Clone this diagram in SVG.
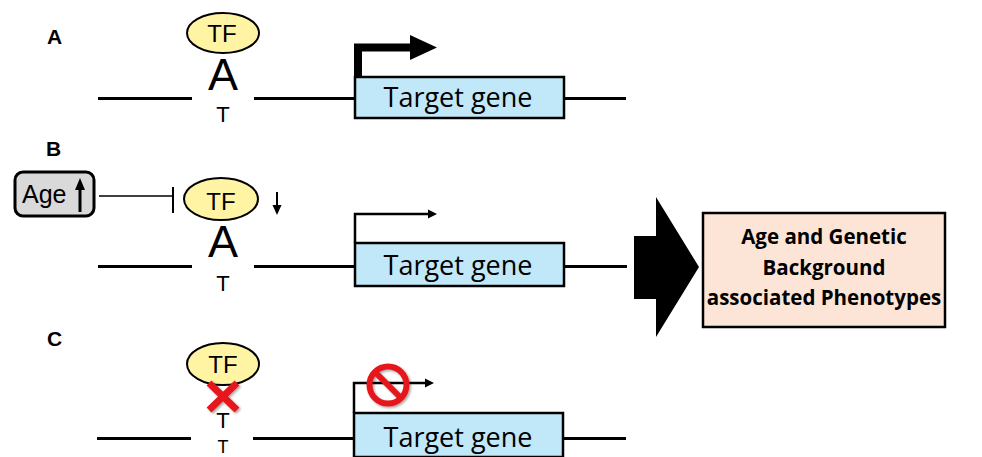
<svg xmlns="http://www.w3.org/2000/svg" width="982" height="457" viewBox="0 0 982 457">
<defs>
<style>
.lbl{font-family:"Liberation Sans",Arial,sans-serif;font-weight:bold;font-size:21px;fill:#000}
.tf{fill:#FFF4A3;stroke:#000;stroke-width:2}
.tft{font-family:"Liberation Sans",Arial,sans-serif;font-size:24px;fill:#000;text-anchor:middle}
.base{font-family:"Liberation Sans",Arial,sans-serif;fill:#000;text-anchor:middle}
.big{font-size:45px}
.small{font-size:22px}
.gene{fill:#C1E8F9;stroke:#000;stroke-width:2.5}
.gt{font-family:"Open Sans","Noto Sans",sans-serif;font-size:27px;fill:#000;text-anchor:middle}
.dna{stroke:#000;stroke-width:3;fill:none}
.thin{stroke:#000;stroke-width:2.5;fill:none}
.res{fill:#FCE4D6;stroke:#000;stroke-width:2.5}
.rt{font-family:"Open Sans","Noto Sans",sans-serif;font-weight:bold;font-size:20.5px;fill:#000;text-anchor:middle}
.red{stroke:#E5181C;fill:none}
</style>
<filter id="sh" x="-20%" y="-20%" width="140%" height="140%">
<feDropShadow dx="1.5" dy="1.5" stdDeviation="1" flood-color="#000" flood-opacity="0.35"/>
</filter>
</defs>
<rect width="982" height="457" fill="#fff"/>

<g id="connectors">
<path class="dna" d="M98,98.5H192M254,98.5H355M564,98.5H626"/>
<path class="dna" d="M98,266.5H192M254,266.5H355M564,266.5H627"/>
<path class="dna" d="M97,438.5H191M253,438.5H355M563,438.5H626"/>
<path d="M358,77V47.5H412" stroke="#000" stroke-width="8" fill="none" stroke-linejoin="miter"/>
<polygon points="410,35 437,47.5 410,60" fill="#000"/>
<path class="thin" d="M355,243V214H429"/>
<polygon points="428,209.5 437,214 428,218.5" fill="#000"/>
<path class="thin" d="M354,413V383H426"/>
<polygon points="425,378.5 434,383 425,387.5" fill="#000"/>
<line x1="99" y1="196" x2="173" y2="196" stroke="#000" stroke-width="1.5"/>
<line x1="173" y1="187" x2="173" y2="213" stroke="#000" stroke-width="2"/>
<line x1="277" y1="192" x2="277" y2="207" stroke="#000" stroke-width="2"/>
<polygon points="272.5,205 281.5,205 277,215" fill="#000"/>
<polygon points="634,236 656,236 656,197 699,267 656,337 656,299 634,299" fill="#000"/>
</g>

<g id="label-A"><text class="lbl" x="47" y="44">A</text></g>
<g id="label-B"><text class="lbl" x="46" y="156">B</text></g>
<g id="label-C"><text class="lbl" x="47" y="346">C</text></g>

<g id="tf-A">
<ellipse class="tf" cx="223" cy="33" rx="36" ry="20"/>
<text class="tft" x="222" y="42">TF</text>
</g>
<g id="base-A">
<text class="base big" x="223" y="90">A</text>
<text class="base small" x="223" y="122">T</text>
</g>

<g id="gene-A">
<rect class="gene" x="355" y="77" width="209" height="41"/>
<text class="gt" x="458" y="107">Target gene</text>
</g>

<g id="age">
<rect x="15" y="172" width="79" height="44" rx="8" fill="#D9D9D9" stroke="#000" stroke-width="3"/>
<text x="22" y="203" font-family="Liberation Sans,Arial,sans-serif" font-size="25" fill="#000">Age</text>
<line x1="80" y1="212" x2="80" y2="187" stroke="#000" stroke-width="3"/>
<polygon points="75,190 85,190 80,178" fill="#000"/>
</g>

<g id="tf-B">
<ellipse class="tf" cx="221" cy="199" rx="37" ry="21"/>
<text class="tft" x="221" y="210">TF</text>
</g>
<g id="base-B">
<text class="base big" x="223" y="257">A</text>
<text class="base small" x="223" y="291">T</text>
</g>

<g id="gene-B">
<rect class="gene" x="355" y="243" width="209" height="43"/>
<text class="gt" x="458" y="275">Target gene</text>
</g>

<g id="result">
<rect class="res" x="703" y="213" width="242" height="114"/>
<text class="rt" x="824" y="244">Age and Genetic</text>
<text class="rt" x="824" y="275">Background</text>
<text class="rt" x="824" y="305">associated Phenotypes</text>
</g>

<g id="tf-C">
<ellipse class="tf" cx="223" cy="364" rx="36" ry="21"/>
<text class="tft" x="223" y="373">TF</text>
</g>
<g id="base-C">
<text class="base small" x="223" y="428">T</text>
<text class="base" font-size="18" x="223" y="452.5">T</text>
<g filter="url(#sh)">
<path class="red" stroke-width="7" d="M209,383L237,410M237,383L209,410"/>
</g>
</g>

<g id="gene-C">
<rect class="gene" x="354" y="413" width="209" height="44"/>
<text class="gt" x="458" y="447">Target gene</text>
</g>

<g id="no-sign" filter="url(#sh)">
<circle class="red" cx="388" cy="385" r="18.5" stroke-width="6"/>
<line class="red" x1="375" y1="372" x2="401" y2="398" stroke-width="6"/>
</g>
</svg>
